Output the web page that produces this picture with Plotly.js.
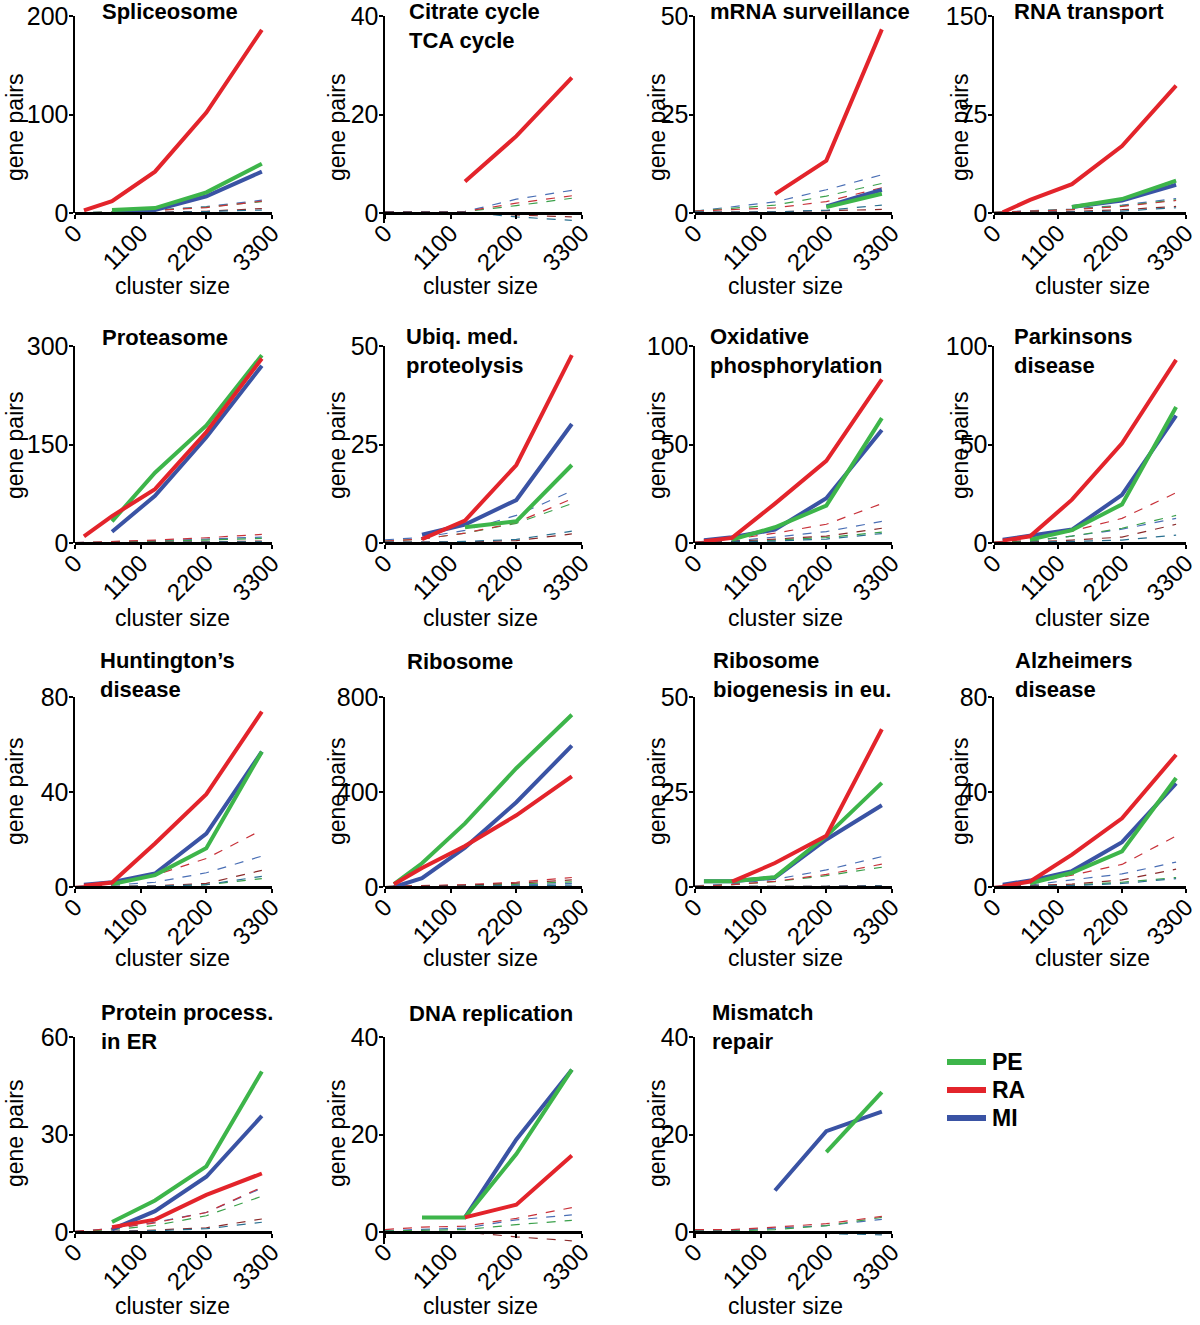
<!DOCTYPE html>
<html>
<head>
<meta charset="utf-8">
<script src="https://cdn.plot.ly/plotly-3.0.1.min.js"></script>
<style>html,body{margin:0;padding:0;background:#fff}#chart{width:1200px;height:1325px}</style>
</head>
<body>
<div id="chart"></div>
<script>
// ---------------- DATA ----------------
const xSolid = [150, 620, 1340, 2200, 3130];   // cluster sizes of observed points
const xRand  = [0, 620, 1340, 2200, 3130];     // cluster sizes of random expectation lines
const xTicks = [0, 1100, 2200, 3300];
const seriesNames = ["PE", "RA", "MI"];

const panelTitles = [
  "Spliceosome", "Citrate cycle<br>TCA cycle", "mRNA surveillance", "RNA transport",
  "Proteasome", "Ubiq. med.<br>proteolysis", "Oxidative<br>phosphorylation", "Parkinsons<br>disease",
  "Huntington’s<br>disease", "Ribosome", "Ribosome<br>biogenesis in eu.", "Alzheimers<br>disease",
  "Protein process.<br>in ER", "DNA replication", "Mismatch<br>repair"
];
const yMax = [200, 40, 50, 150, 300, 50, 100, 100, 80, 800, 50, 80, 60, 40, 40];
const yMin = [0, -2, 0, 0, 0, 0, 0, 0, 0, 0, 0, 0, 0, -2.4, -1.2];

const PE = [
  [null, 3, 5, 21, 50],
  [null, null, null, null, null],
  [null, null, null, 1.5, 4.9],
  [null, null, 4.6, 10.6, 24.6],
  [null, 33, 107, 179, 286],
  [null, null, 4, 5.5, 19.8],
  [null, 1.7, 8, 19, 63.4],
  [null, 1.7, 6.5, 19.6, 69],
  [null, 1.2, 5, 16.3, 57],
  [12, 100, 268, 500, 725],
  [1.5, 1.5, 2.6, 13.4, 27.4],
  [null, 1.6, 6, 15, 45.9],
  [null, 3.1, 9.7, 20.2, 49.4],
  [null, 3, 3, 16, 33.3],
  [null, null, null, 16.4, 28.7]
];
const RA = [
  [2.7, 12, 42, 102, 186],
  [null, null, 6.4, 15.6, 27.5],
  [null, null, 4.8, 13.3, 46.6],
  [0.5, 10, 22, 51, 97],
  [10, 41, 82, 169, 281],
  [null, 1, 5.7, 19.8, 47.7],
  [0.85, 2.6, 20, 41.7, 83],
  [1.2, 3.4, 22, 50.6, 93],
  [0.5, 1.9, 18.3, 39.1, 73.8],
  [12, 80, 173, 302, 466],
  [null, 1.4, 6.3, 13.5, 41.5],
  [0.3, 2.3, 13.6, 28.9, 55.7],
  [null, 1.5, 3.8, 11.4, 18],
  [null, null, 3, 5.6, 15.7],
  [null, null, null, null, null]
];
const MI = [
  [null, 2, 3, 17, 42],
  [null, null, null, null, null],
  [null, null, null, 1.7, 5.9],
  [null, null, 4.6, 9.4, 21.5],
  [null, 17, 72, 161, 270],
  [null, 2.1, 4.7, 10.9, 30.2],
  [1.4, 2.9, 6.8, 22.7, 57.4],
  [1.7, 3.7, 6.8, 24.4, 64.7],
  [1, 2, 5.7, 22.5, 57],
  [0, 37, 166, 357, 595],
  [1.5, 1.5, 2.5, 12.5, 21.5],
  [1, 2.7, 6.7, 18.9, 43.6],
  [null, 0.8, 6.4, 17, 35.7],
  [null, null, 3, 19, 33.3],
  [null, null, 8.5, 20.7, 24.7]
];
// random expectation lines per panel: [blue, green, red, dark red, teal]
const randomLines = [
  [[0.3,1,3,6.5,13],[0.3,1,2.8,6,11.5],[0.2,0.8,2.5,5.5,12],[0.1,0.3,0.8,1.8,4.5],[0.1,0.2,0.6,1.5,3]],
  [[0.3,0.3,0.3,2.8,4.6],[0.3,0.3,0.3,1.5,3.0],[0.3,0.3,0.3,2,3.5],[0.2,0.2,0.2,-0.4,-0.8],[0.2,0.2,0.2,-0.8,-1.5]],
  [[0.5,1.5,2.8,5.9,9.7],[0.5,1.2,2.0,4.3,7.5],[0.5,0.8,1.3,2.9,6.4],[0.3,0.2,0.3,0.5,0.9],[0.3,0.2,0.3,0.7,2.0]],
  [[0.5,1.5,3,6,11],[0.5,1.3,2.8,5.5,10],[0.5,1.2,2.5,5,9.5],[0.3,0.6,1.2,2.5,5],[0.2,0.4,0.8,1.5,4]],
  [[0.5,1.5,3.5,6,9],[0.5,1,2.5,4.5,7],[0.5,2,4.5,8,13],[0.3,0.6,1,1.8,3],[0.2,0.4,0.7,1.2,2]],
  [[0.8,1.4,3.2,7,13.2],[0.5,1,2.5,5,10],[0.5,1,2.5,5.2,11.2],[0.2,0.2,0.3,0.6,2.3],[0.2,0.2,0.4,0.9,3]],
  [[0.3,1,3,5.8,11],[0.2,0.6,1.5,2.8,5.5],[0.5,1.8,5,9.5,20],[0.3,0.8,2,3.5,7.5],[0.2,0.4,1,2,4.8]],
  [[0.3,1,3.5,7,12.5],[0.3,1,3.5,7.5,14],[0.5,2,6,12.5,25.5],[0.2,0.5,1.5,3,9.5],[0.1,0.3,0.8,1.5,4]],
  [[0.2,0.8,2,6,13],[0,0.2,0.3,1,3.5],[0.3,1,5,12,24],[0.1,0.3,0.5,1.5,7],[0.1,0.2,0.4,1,4.5]],
  [[2,3,5,9,15],[2,3,6,12,22],[2,5,10,20,40],[2,4,8,16,30],[1,1.5,3,5,8]],
  [[0.3,0.8,2,4.5,8],[0.2,0.6,1.4,3,5.2],[0.2,0.6,1.5,3.3,6],[0.1,0.1,0.1,0.2,0.4],[0.1,0.1,0.1,0.2,0.3]],
  [[0.2,0.8,3,5.5,10.5],[0.1,0.4,0.8,2,4],[0.3,1.5,5,9.5,21.5],[0.1,0.5,1.2,3,7.5],[0.1,0.3,0.6,1.5,3.5]],
  [[0.2,1,3,6,13.5],[0.1,0.7,2,5,11],[0.2,1,2.8,6,13.8],[0.1,0.2,0.6,1.3,4],[0,0.1,0.4,1,3]],
  [[0.3,0.6,0.8,2.5,3.5],[0.2,0.3,0.5,1.5,2.4],[0.5,1,1.2,2.8,5],[0,0,0,-1,-1.8],[0,0,0,-0.3,-0.3]],
  [[0.3,0.3,0.8,1.3,2.6],[0.2,0.2,0.5,1.3,3],[0.5,0.5,1,1.7,3.2],[0,0,-0.1,-0.2,-0.4],[0,0,-0.1,-0.3,-0.6]]
];

// ---------------- STYLE / LAYOUT ----------------
const W = 1200, H = 1325;
const FONT = "Liberation Sans, Arial, Helvetica, sans-serif";
const cPE = "#3db54a", cRA = "#e3242b", cMI = "#3a53a4";
const seriesColors = {PE: cPE, RA: cRA, MI: cMI};
const randColors = ["#4a6fb5", "#3aa04a", "#c8323a", "#8a2a2a", "#2a7090"];
const colX = [[75, 272], [385, 582], [695, 892], [994, 1186]];
const rowY = [[16, 213], [346, 543], [697, 887], [1037, 1232]];
const titlePos = [ // left x, first-line center y
  [100,12],[407,12],[708,12],[1012,12],
  [100,337],[404,337],[708,337],[1012,337],
  [98,661],[405,661],[711,661],[1013,661],
  [99,1013],[407,1013],[710,1013]
];
const gpX = [15, 337, 657, 960];
const gpY = [128, 446, 792, 1134];
const csX = [172, 480, 785, 1092];
const csY = [286, 618, 958, 1306];

const traces = [];
const layout = {
  width: W, height: H,
  margin: {l: 0, r: 0, t: 0, b: 0},
  paper_bgcolor: "#fff", plot_bgcolor: "rgba(0,0,0,0)",
  showlegend: false,
  annotations: [], shapes: []
};

for (let i = 0; i < 15; i++) {
  const r = Math.floor(i / 4), c = i % 4;
  const xa = "x" + (i + 1), ya = "y" + (i + 1);
  const [x0, x1] = colX[c];
  const [top, zero] = rowY[r];
  const extra = yMin[i] < 0 ? (-yMin[i] / yMax[i]) * (zero - top) : 0;

  layout["xaxis" + (i + 1)] = {
    domain: [x0 / W, x1 / W], range: [0, 3300],
    tickmode: "array", tickvals: xTicks, ticktext: xTicks.map(String),
    tickangle: -45, ticks: "outside", ticklen: 4, tickwidth: 2, tickcolor: "#000",
    ticklabelstandoff: -9, ticklabeloverflow: "allow",
    showline: true, linewidth: 2.5, linecolor: "#000",
    showgrid: false, zeroline: false, fixedrange: true,
    anchor: "free", position: 1 - zero / H,
    tickfont: {family: FONT, size: 24, color: "#000"}
  };
  layout["yaxis" + (i + 1)] = {
    domain: [1 - (zero + extra) / H, 1 - top / H], range: [yMin[i], yMax[i]],
    tickmode: "array", tickvals: [0, yMax[i] / 2, yMax[i]],
    ticks: "outside", ticklen: 4, tickwidth: 2, tickcolor: "#000",
    showline: true, linewidth: 2.5, linecolor: "#000",
    showgrid: false, zeroline: false, fixedrange: true,
    anchor: xa, ticklabelstandoff: -5, ticklabeloverflow: "allow",
    tickfont: {family: FONT, size: 25, color: "#000"}
  };

  // random expectation (thin dashed)
  randomLines[i].forEach((ys, k) => {
    traces.push({
      x: xRand, y: ys, xaxis: xa, yaxis: ya, type: "scatter", mode: "lines",
      line: {color: randColors[k], width: 1.2, dash: "dash"},
      showlegend: false, hoverinfo: "skip"
    });
  });
  // observed solid lines
  const series = [["MI", MI[i]], ["PE", PE[i]], ["RA", RA[i]]];
  series.forEach(([name, ys]) => {
    traces.push({
      x: xSolid, y: ys, xaxis: xa, yaxis: ya, type: "scatter", mode: "lines",
      name: name, line: {color: seriesColors[name], width: 4}, showlegend: false
    });
  });

  // panel title
  const nLines = panelTitles[i].split("<br>").length;
  layout.annotations.push({
    xref: "paper", yref: "paper", showarrow: false,
    x: titlePos[i][0] / W, y: 1 - (titlePos[i][1] + (nLines - 1) * 14) / H,
    xanchor: "left", yanchor: "middle", align: "left",
    text: "<b>" + panelTitles[i] + "</b>",
    font: {family: FONT, size: 22, color: "#000"}
  });
  // axis titles
  layout.annotations.push({
    xref: "paper", yref: "paper", showarrow: false,
    x: gpX[c] / W, y: 1 - gpY[r] / H, xanchor: "center", yanchor: "middle",
    textangle: -90, text: "gene pairs",
    font: {family: FONT, size: 23, color: "#000"}
  });
  layout.annotations.push({
    xref: "paper", yref: "paper", showarrow: false,
    x: csX[c] / W, y: 1 - csY[r] / H, xanchor: "center", yanchor: "middle",
    text: "cluster size",
    font: {family: FONT, size: 23, color: "#000"}
  });
}

// legend key (drawn as key swatches + labels)
const legY = [1062, 1090, 1118];
seriesNames.forEach((name, k) => {
  layout.shapes.push({
    type: "line", xref: "paper", yref: "paper",
    x0: 947 / W, x1: 986 / W, y0: 1 - legY[k] / H, y1: 1 - legY[k] / H,
    line: {color: seriesColors[name], width: 6}
  });
  layout.annotations.push({
    xref: "paper", yref: "paper", showarrow: false,
    x: 990 / W, y: 1 - legY[k] / H, xanchor: "left", yanchor: "middle",
    text: "<b>" + name + "</b>",
    font: {family: FONT, size: 23, color: "#000"}
  });
});

Plotly.newPlot("chart", traces, layout, {staticPlot: true, displayModeBar: false});
</script>
</body>
</html>
